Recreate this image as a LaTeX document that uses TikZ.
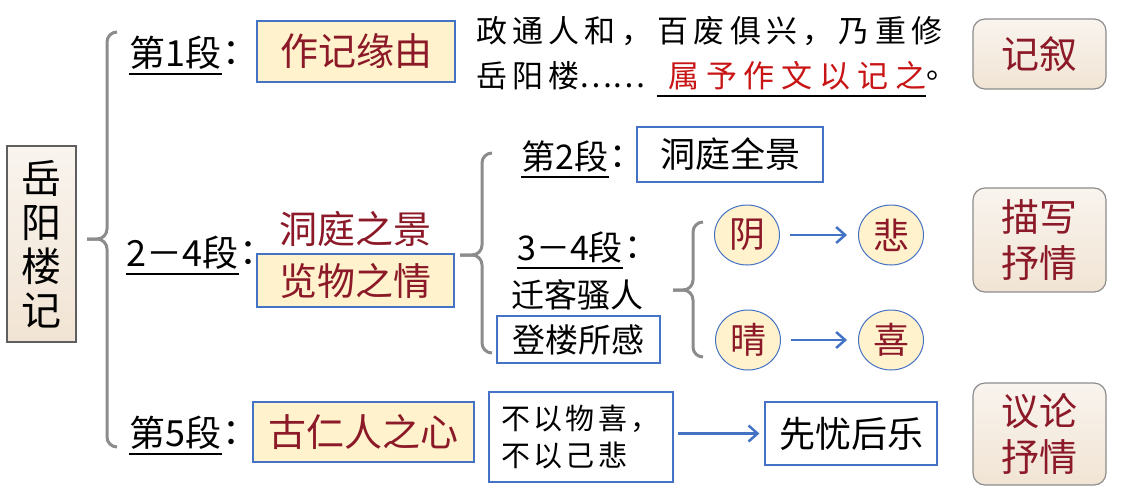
\documentclass[tikz,border=0pt]{standalone}
\usepackage{fontspec}
\setmainfont{Noto Sans CJK SC}
\newfontfamily\spaced[LetterSpace=17]{Noto Sans CJK SC}
\newfontfamily\wide[LetterSpace=22]{Noto Sans CJK SC}
\newfontfamily\loose[LetterSpace=12]{Noto Sans CJK SC}
\usetikzlibrary{positioning,arrows.meta,shapes.geometric}
\definecolor{darkred}{RGB}{140,25,40}
\definecolor{brightred}{RGB}{200,20,20}
\definecolor{boxblue}{RGB}{68,114,196}
\definecolor{fillyellow}{RGB}{255,242,204}
\definecolor{beigetop}{RGB}{249,244,238}
\definecolor{beigebot}{RGB}{241,228,212}
\definecolor{bracegray}{RGB}{140,140,140}
\definecolor{titlegray}{RGB}{95,95,95}
\newcommand{\fs}[1]{\fontsize{#1}{#1}\selectfont}
\tikzset{
  keybox/.style={draw=boxblue, fill=fillyellow, line width=1.2pt, text=darkred, inner sep=0pt, font=\fs{38}},
  plainbox/.style={draw=boxblue, fill=white, line width=1.2pt, inner sep=0pt},
  tagbox/.style={draw=bracegray, line width=1.2pt, rounded corners=12pt, top color=beigetop, bottom color=beigebot,
    text=darkred, align=center, inner sep=0pt, minimum width=133pt, font=\fontsize{38}{46}\selectfont},
  mood/.style={ellipse, draw=boxblue, fill=fillyellow, line width=1pt, text=darkred, inner sep=0pt,
    minimum width=65pt, minimum height=60pt, font=\fs{36}},
  seg/.style={inner sep=0pt, font=\fs{36}},
  uline/.style={line width=2pt},
  bracket/.style={draw=bracegray, line width=3pt, rounded corners=10pt},
  arr/.style={draw=boxblue, line width=2.5pt, -{Straight Barb[length=9pt,width=16pt]}}
}
\begin{document}
\begin{tikzpicture}[x=1pt,y=-1pt]
  \useasboundingbox (0,0) rectangle (1123,493);
  % title
  \node[draw=titlegray, line width=1.2pt, top color=beigetop, bottom color=beigebot, inner sep=0pt,
    minimum width=69pt, minimum height=196pt, align=center, font=\fontsize{40}{44}\selectfont]
    (title) at (41.5,244) {岳\\阳\\楼\\记};
  % big bracket
  \draw[bracket] (117,32) -| (107,239) -- (87,239);
  \draw[bracket] (87,239) -- (107,239) |- (117,447);
  % paragraph 1
  \node[seg] (s1) at (175.5,53) {第1段};
  \node[seg, right=1pt of s1] (c1) {：};
  \node[keybox, minimum width=198pt, minimum height=61pt] (why) at (356,51.5) {作记缘由};
  \node[anchor=west, inner sep=0pt, font=\spaced\fs{31}] (line1) at (476,31) {政通人和，百废俱兴，乃重修};
  \node[anchor=west, inner sep=0pt, font=\fs{31}] (line2) at (476,76) {{\spaced 岳阳楼}……};
  \node[anchor=west, inner sep=0pt, font=\wide\fs{31}, text=brightred] (order) at (668,76) {属予作文以记之};
  \node[right=0pt of order, inner sep=0pt, font=\fs{31}] (stop) {。};
  \draw[uline] ([xshift=-11pt,yshift=-5pt]order.south west) -- ([yshift=-5pt]order.south east);
  \node[tagbox, minimum height=70pt] (narr) at (1039.5,54) {记叙};
  % paragraphs 2-4
  \node[seg] (s2) at (182.5,253) {2－4段};
  \node[seg, right=1pt of s2] (c2) {：};
  \node[inner sep=0pt, text=darkred, font=\fs{38}] (scene) at (355,229) {洞庭之景};
  \node[keybox, minimum width=197pt, minimum height=53pt] (feel) at (355.5,280.5) {览物之情};
  \draw[bracket] (492,153) -| (482,255) -- (460,255);
  \draw[bracket] (460,255) -- (482,255) |- (492,353);
  \node[seg, font=\fs{34}] (p2) at (565,157) {第2段};
  \node[seg, font=\fs{34}, right=1pt of p2] (cp2) {：};
  \node[plainbox, minimum width=186pt, minimum height=55pt, font=\fs{35}] (view) at (730,154.5) {洞庭全景};
  \node[seg, font=\fs{34}] (p34) at (570,248) {3－4段};
  \node[seg, font=\fs{34}, right=1pt of p34] (cp34) {：};
  \node[inner sep=0pt, font=\fs{33}] (exile) at (577,295) {迁客骚人};
  \node[plainbox, minimum width=163pt, minimum height=47pt, font=\fs{33}] (climb) at (578.5,339.5) {登楼所感};
  \draw[bracket] (703,222) -| (693,290) -- (673,290);
  \draw[bracket] (673,290) -- (693,290) |- (703,357);
  \node[mood] (yin) at (747,235) {阴};
  \node[mood] (bei) at (891,235) {悲};
  \node[mood] (qing) at (748,340) {晴};
  \node[mood] (xi) at (891,340) {喜};
  \draw[arr, shorten <=10pt, shorten >=11pt] (yin) -- (bei);
  \draw[arr, shorten <=10pt, shorten >=11pt] (qing) -- (xi);
  \node[tagbox, minimum height=104pt] (desc) at (1039.5,240) {描写\\抒情};
  % paragraph 5
  \node[seg] (s5) at (175.5,433) {第5段};
  \node[seg, right=1pt of s5] (c5) {：};
  \node[keybox, minimum width=221pt, minimum height=60pt] (heart) at (363.5,432) {古仁人之心};
  \node[plainbox, minimum width=184pt, minimum height=90pt, align=left, text width=160pt,
    font=\loose\fontsize{29}{37}\selectfont] (notby) at (581,437) {不以物喜，\\不以己悲};
  \node[plainbox, minimum width=172pt, minimum height=63pt, font=\fs{36}] (first) at (851,433.5) {先忧后乐};
  \draw[arr, shorten <=4pt, shorten >=5pt] (notby.east |- first) -- (first);
  \node[tagbox, minimum height=102pt] (argue) at (1039.5,434) {议论\\抒情};
  % underlines
  \foreach \n in {s1,s2,s5,p2,p34}
    \draw[uline] ([yshift=-4pt]\n.south west) -- ([yshift=-4pt]\n.south east);
\end{tikzpicture}
\end{document}
